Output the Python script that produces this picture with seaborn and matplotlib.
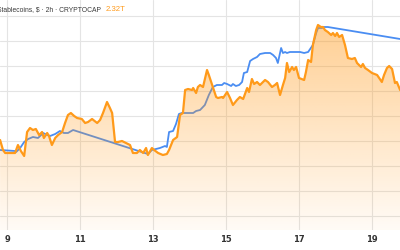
import numpy as np
import pandas as pd
import matplotlib
matplotlib.use("Agg")
import matplotlib.pyplot as plt
from matplotlib import font_manager
import seaborn as sns

# Stablecoins market cap (CRYPTOCAP, billions $), x = day of month
stable_day = [8.81, 8.89, 8.95, 9.22, 9.30, 9.38, 9.47, 9.55, 9.63, 9.71, 9.79, 9.88, 9.96, 10.01,
              10.10, 10.15, 10.23, 10.32, 10.40, 10.51, 10.59, 10.67, 10.75, 10.84, 10.92, 11.05,
              11.14, 11.22, 11.33, 11.47, 11.55, 11.63, 11.74, 11.82, 11.88, 11.96, 12.04, 12.15,
              12.26, 12.37, 12.45, 12.56, 12.64, 12.73, 12.81, 12.86, 12.97, 13.03, 13.14, 13.27,
              13.38, 13.44, 13.55, 13.66, 13.74, 13.82, 13.88, 13.96, 14.07, 14.10, 14.18, 14.23,
              14.29, 14.37, 14.48, 14.53, 14.64, 14.73, 14.78, 14.89, 14.92, 15.03, 15.11, 15.19,
              15.30, 15.38, 15.47, 15.58, 15.63, 15.71, 15.77, 15.85, 15.93, 16.07, 16.15, 16.26,
              16.34, 16.40, 16.48, 16.56, 16.62, 16.67, 16.73, 16.81, 16.86, 16.92, 17.00, 17.14,
              17.19, 17.25, 17.33, 17.38, 17.47, 17.52, 17.60, 17.66, 17.71, 17.79, 17.88, 17.93,
              17.99, 18.04, 18.10, 18.18, 18.26, 18.34, 18.45, 18.53, 18.59, 18.70, 18.75, 18.81,
              18.89, 19.00, 19.14, 19.27, 19.33, 19.41, 19.47, 19.55, 19.63, 19.68, 19.77]
stable_cap = [2300.2, 2298.2, 2297.6, 2297.6, 2299.2, 2298.0, 2297.0, 2301.8, 2302.6, 2302.2, 2302.4,
              2301.2, 2301.8, 2300.6, 2301.6, 2301.0, 2299.2, 2300.6, 2301.2, 2301.8, 2303.6, 2305.2,
              2305.6, 2305.0, 2304.6, 2304.4, 2303.6, 2303.8, 2304.4, 2303.6, 2304.2, 2305.6, 2307.8,
              2306.6, 2305.6, 2299.8, 2299.8, 2300.0, 2299.6, 2299.2, 2297.6, 2297.6, 2298.2, 2297.6,
              2298.6, 2297.2, 2298.6, 2298.2, 2297.6, 2297.2, 2297.4, 2298.2, 2300.2, 2300.8, 2305.2,
              2305.6, 2310.2, 2310.4, 2310.2, 2310.6, 2309.6, 2310.8, 2311.2, 2310.8, 2314.2, 2313.2,
              2310.8, 2308.8, 2308.6, 2308.8, 2308.6, 2309.8, 2308.6, 2307.2, 2308.2, 2308.8, 2308.4,
              2310.6, 2309.8, 2312.4, 2311.4, 2311.8, 2311.2, 2312.2, 2311.8, 2310.8, 2311.2, 2311.6,
              2309.2, 2311.2, 2312.6, 2315.6, 2313.8, 2314.8, 2314.2, 2314.8, 2312.6, 2312.2, 2313.8,
              2316.2, 2315.8, 2319.2, 2322.2, 2323.2, 2322.8, 2322.8, 2322.2, 2321.8, 2321.2, 2321.6,
              2321.0, 2321.6, 2320.8, 2321.2, 2319.2, 2316.6, 2316.4, 2316.6, 2315.6, 2314.8, 2315.4,
              2314.6, 2314.2, 2313.6, 2313.2, 2311.8, 2313.2, 2314.6, 2315.0, 2314.4, 2311.6, 2311.8,
              2310.2]

# Comparison symbol (blue line)
compare_day = [8.81, 9.22, 9.25, 9.36, 9.47, 9.58, 9.71, 9.85, 9.99, 10.10, 10.18, 10.32, 10.45,
               10.56, 10.67, 10.81, 12.86, 12.97, 13.19, 13.33, 13.38, 13.44, 13.55, 13.63, 13.71,
               13.79, 14.10, 14.18, 14.29, 14.42, 14.53, 14.64, 14.75, 14.89, 14.95, 15.03, 15.14,
               15.19, 15.27, 15.36, 15.44, 15.49, 15.58, 15.66, 15.74, 15.85, 15.93, 16.07, 16.21,
               16.29, 16.37, 16.42, 16.51, 16.56, 16.62, 16.67, 16.75, 16.84, 16.95, 17.03, 17.14,
               17.25, 17.38, 17.47, 17.52, 17.63, 17.68, 17.79, 19.77]
compare_val = [2298.2, 2298.0, 2297.8, 2298.6, 2299.8, 2300.4, 2300.8, 2300.6, 2301.6, 2301.2,
               2301.0, 2301.4, 2302.0, 2301.6, 2301.6, 2302.2, 2297.4, 2298.2, 2298.6, 2299.0,
               2298.8, 2301.8, 2302.0, 2303.4, 2305.4, 2305.6, 2305.6, 2306.0, 2306.2, 2307.2,
               2309.2, 2310.8, 2311.2, 2311.2, 2311.6, 2311.4, 2311.0, 2311.4, 2311.0, 2311.2,
               2311.8, 2313.6, 2313.8, 2316.0, 2316.4, 2316.8, 2317.4, 2317.6, 2317.6, 2317.2,
               2316.6, 2315.6, 2318.6, 2317.6, 2317.8, 2317.6, 2317.8, 2317.8, 2317.8, 2317.8,
               2317.6, 2317.8, 2319.2, 2321.6, 2322.6, 2322.6, 2322.8, 2322.8, 2320.4]

x_ticks = [9, 11, 13, 15, 17, 19]
x_tick_labels = ["9", "11", "13", "15", "17", "19"]
y_grid = [2285, 2290, 2295, 2300, 2305, 2310, 2315, 2320, 2325]
title_text = "Stablecoins, $ · 2h · CRYPTOCAP"
last_value_text = "2.32T"

ORANGE = "#ff9a1a"
BLUE = "#4a8df2"

sns.set_style("white")
plt.rcParams["font.family"] = ["Liberation Sans", "DejaVu Sans"]

installed = {f.name for f in font_manager.fontManager.ttflist}
if "Liberation Sans Narrow" in installed:
    title_family = ["Liberation Sans Narrow", "DejaVu Sans"]
    title_size = 5.6
else:
    title_family = ["Liberation Sans", "DejaVu Sans"]
    title_size = 4.85

fig = plt.figure(figsize=(4, 2.5), dpi=100)
ax = fig.add_axes([0, 0.08, 1, 0.92])
xmin, xmax = 8.808, 19.767
ymin, ymax = 2282.2, 2328.2
ax.set_xlim(xmin, xmax)
ax.set_ylim(ymin, ymax)

stable_df = pd.DataFrame({"day": stable_day, "cap": stable_cap})
compare_df = pd.DataFrame({"day": compare_day, "val": compare_val})

# grid
for yv in y_grid:
    ax.axhline(yv, color="#e4e4e4", lw=0.8, zorder=0)
for xv in x_ticks:
    ax.axvline(xv, color="#e4e4e4", lw=0.8, zorder=0)

# comparison line, under the fill
sns.lineplot(data=compare_df, x="day", y="val", ax=ax, color=BLUE, lw=1.3,
             zorder=1, estimator=None, sort=False)

# gradient area fill
poly = ax.fill_between(stable_df["day"], stable_df["cap"], ymin, color="none", lw=0)
path = poly.get_paths()[0]
grad = np.zeros((256, 1, 4))
grad[:, 0, 0] = 1.0
grad[:, 0, 1] = 0.60
grad[:, 0, 2] = 0.10
grad[:, 0, 3] = np.linspace(0.04, 0.52, 256)
im = ax.imshow(grad, extent=[xmin, xmax, ymin, ymax], origin="lower",
               aspect="auto", zorder=2, interpolation="bilinear")
im.set_clip_path(path, transform=ax.transData)

sns.lineplot(data=stable_df, x="day", y="cap", ax=ax, color=ORANGE, lw=1.6,
             zorder=3, estimator=None, sort=False)

ax.set_xlim(xmin, xmax)
ax.set_ylim(ymin, ymax)
for s in ax.spines.values():
    s.set_visible(False)
ax.set_yticks([])
ax.set_xticks(x_ticks)
ax.set_xticklabels(x_tick_labels, fontsize=6, color="#333333", fontweight="bold",
                   family=["DejaVu Sans"])
ax.tick_params(axis="x", length=0, pad=3.5)
ax.set_xlabel("")
ax.set_ylabel("")

t = fig.text(-0.007, 0.962, title_text, fontsize=title_size, color="#3a3a3a",
             va="center", ha="left", family=title_family)
fig.canvas.draw()
bb = t.get_window_extent()
fig.text((bb.x1 + 4) / fig.bbox.width, 0.962, last_value_text, fontsize=5.6,
         color=ORANGE, va="center", ha="left")

fig.savefig("out.png", dpi=100)
